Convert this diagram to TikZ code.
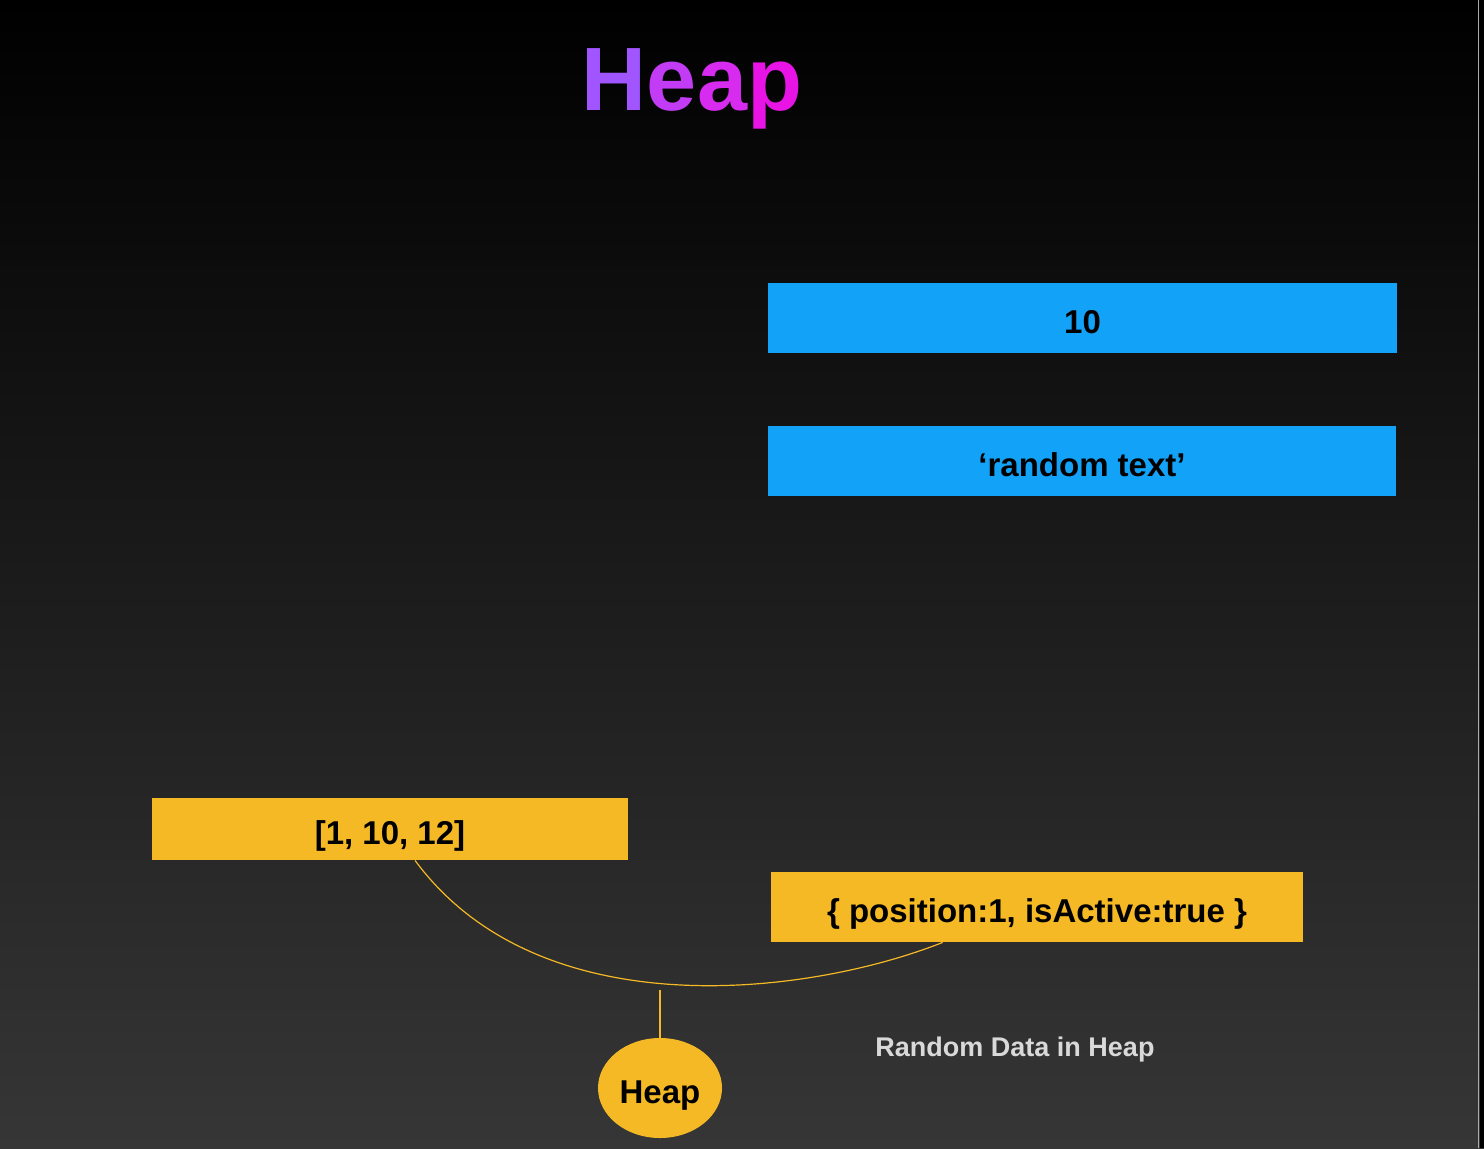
\documentclass[tikz,border=0pt]{standalone}
\usepackage{fontspec}
\setmainfont{Liberation Sans}
\usetikzlibrary{calc,shapes.geometric}
\definecolor{bgbot}{HTML}{363636}
\definecolor{bluebox}{HTML}{12A3F8}
\definecolor{yellowbox}{HTML}{F5B926}
\definecolor{capgray}{HTML}{D9D9D9}
\definecolor{hcol}{HTML}{A055FF}
\definecolor{ecol}{HTML}{C23CF5}
\definecolor{acol}{HTML}{D72BF0}
\definecolor{pcol}{HTML}{E814E6}
\tikzset{
  celltext/.style={font=\fontsize{16.5}{20}\selectfont\bfseries, text=black, text height=15pt, text depth=0pt},
  bluecell/.style={fill=bluebox, inner sep=0pt, minimum height=35pt, celltext},
  yellowcell/.style={fill=yellowbox, inner sep=0pt, celltext},
  link/.style={draw=yellowbox, line width=0.6pt},
}
\begin{document}
\begin{tikzpicture}[x=0.5pt,y=-0.5pt]
\useasboundingbox (0,0) rectangle (1484,1148);
\shade[top color=black, bottom color=bgbot] (0,0) rectangle (1484,1148);
\fill[black] (1480,0) rectangle (1484,1148);
\fill[black!60!white!55] (1477.5,0) rectangle (1479,1148);

\node[anchor=base, inner sep=0pt, font=\fontsize{45}{50}\selectfont\bfseries] (title) at (692,110)
  {\textcolor{hcol}{H}\textcolor{ecol}{e}\textcolor{acol}{a}\textcolor{pcol}{p}};

\node[bluecell, minimum width=314.5pt] (b1) at (1082.5,318) {10};
\node[bluecell, minimum width=314pt] (b2) at (1082,461) {‘random text’};

\node[yellowcell, minimum width=238pt, minimum height=31pt] (y1) at (390,829) {[1, 10, 12]};
\node[yellowcell, minimum width=266pt, minimum height=35pt] (y2) at (1037,907) {\{ position:1, isActive:true \}};

\node[ellipse, fill=yellowbox, inner sep=0pt, minimum width=62pt, minimum height=50pt, celltext] (heap) at (660,1088) {Heap};

\coordinate (c1) at ($(y1.south west)!0.5525!(y1.south east)$);
\coordinate (c2) at ($(y2.south west)!0.323!(y2.south east)$);
\draw[link] (c1) .. controls (540,1030) and (810,995) .. (c2);
\coordinate (hc) at (660,990);
\draw[link] (hc) -- (heap.north);

\node[font=\fontsize{13.5}{16}\selectfont\bfseries, text=capgray] (cap) at (1015,1050) {Random Data in Heap};
\end{tikzpicture}
\end{document}
